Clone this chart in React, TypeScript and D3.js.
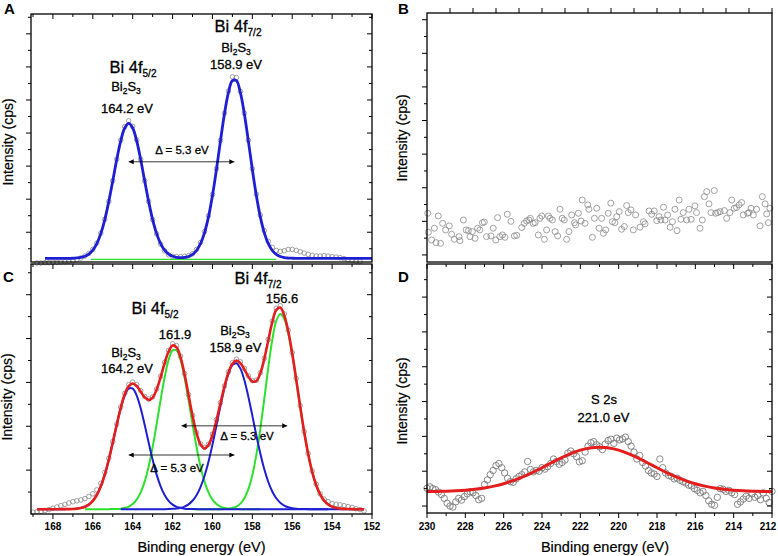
import * as d3 from "d3";

type Pt = [number, number];

const W = 778;
const H = 556;
const FONT = "'Liberation Sans', Arial, Helvetica, sans-serif";

// ---------- panel A: Bi 4f of the reference (0.2 eV steps) ----------
const aCircleStart = 168.8;
const aCircles = [
  -0.93, -0.93, -0.92, -0.92, -0.91, -0.91, -0.9, -0.89, -0.88, -0.86,
  -0.83, -0.78, -0.72, -0.64, -0.52, -0.33, -0.03, 0.39, 0.93, 1.56,
  2.21, 2.78, 3.19, 3.37, 3.2, 2.79, 2.21, 1.56, 0.93, 0.38,
  -0.05, -0.36, -0.56, -0.68, -0.73, -0.74, -0.74, -0.73, -0.71, -0.65,
  -0.52, -0.31, 0.02, 0.5, 1.14, 1.92, 2.78, 3.6, 4.27, 4.7,
  4.68, 4.26, 3.6, 2.78, 1.92, 1.15, 0.52, 0.05, -0.28, -0.46,
  -0.55, -0.58, -0.56, -0.52, -0.52, -0.55, -0.59, -0.63, -0.67, -0.7,
  -0.72, -0.72, -0.71, -0.72, -0.74, -0.75, -0.77, -0.8, -0.83, -0.86,
  -0.88, -0.89,
];
const aFitStart = 168.4;
const aFit = [
  -0.79, -0.79, -0.79, -0.79, -0.79, -0.79, -0.788, -0.786, -0.778, -0.762,
  -0.728, -0.662, -0.543, -0.345, -0.042, 0.383, 0.926, 1.554, 2.197, 2.762,
  3.151, 3.29, 3.151, 2.762, 2.197, 1.554, 0.926, 0.383, -0.042, -0.345,
  -0.543, -0.662, -0.727, -0.758, -0.768, -0.762, -0.732, -0.671, -0.552, -0.346,
  -0.017, 0.465, 1.111, 1.898, 2.756, 3.575, 4.224, 4.583, 4.583, 4.224,
  3.575, 2.756, 1.898, 1.111, 0.465, -0.017, -0.346, -0.552, -0.671, -0.734,
  -0.766, -0.78, -0.786, -0.789, -0.79, -0.79, -0.79, -0.79, -0.79, -0.79,
  -0.79, -0.79, -0.79, -0.79, -0.79, -0.79, -0.79, -0.79, -0.79, -0.79,
  -0.79, -0.79, -0.79,
];
const aBackground: Pt[] = [
  [166.1, -0.82],
  [156.8, -0.82],
];

// ---------- panel B: scatter only (arbitrary x units) ----------
const bPoints: Pt[] = [
  [0.03, 2.48], [0.06, 1.35], [0.2, 0.89], [0.32, 1.59], [0.39, 0.73], [0.49, 2.32], [0.59, 0.69],
  [0.68, 1.88], [0.81, 1.49], [0.97, 1.73], [1.07, 1.23], [1.19, 0.93], [1.39, 1.09], [1.43, 0.85],
  [1.58, 2.08], [1.7, 1.49], [1.8, 1.45], [1.87, 1.09], [1.97, 1.39], [2.09, 0.99], [2.2, 1.59],
  [2.3, 1.49], [2.41, 1.92], [2.49, 1.96], [2.59, 1.09], [2.78, 1.13], [2.88, 1.59], [2.99, 0.89],
  [3.07, 2.22], [3.17, 1.09], [3.28, 1.19], [3.39, 1.05], [3.49, 2.42], [3.65, 2.0], [3.8, 1.13],
  [3.9, 1.17], [4.12, 1.63], [4.23, 1.88], [4.33, 2.02], [4.43, 2.08], [4.49, 2.18], [4.62, 1.88],
  [4.7, 1.92], [4.84, 1.19], [4.91, 2.18], [4.99, 2.32], [5.1, 0.93], [5.2, 1.49], [5.28, 2.32],
  [5.35, 2.18], [5.45, 2.08], [5.57, 1.39], [5.68, 1.13], [5.78, 2.72], [5.88, 2.18], [5.97, 2.08],
  [6.07, 0.93], [6.17, 1.39], [6.29, 2.38], [6.41, 1.92], [6.46, 1.79], [6.58, 2.48], [6.7, 2.02],
  [6.75, 3.27], [6.87, 1.88], [6.99, 2.98], [7.04, 2.72], [7.19, 1.05], [7.28, 2.18], [7.38, 2.78],
  [7.48, 1.59], [7.59, 2.18], [7.67, 1.29], [7.77, 1.49], [7.88, 2.48], [7.99, 3.08], [8.06, 1.98],
  [8.17, 1.92], [8.25, 2.28], [8.36, 2.58], [8.46, 1.53], [8.58, 1.69], [8.68, 2.94], [8.75, 2.52],
  [8.87, 2.68], [8.97, 1.49], [9.07, 2.38], [9.26, 1.65], [9.41, 1.98], [9.48, 1.85], [9.65, 2.62],
  [9.77, 2.42], [9.88, 2.62], [9.99, 2.04], [10.09, 2.28], [10.17, 2.08], [10.28, 2.84], [10.35, 2.08],
  [10.46, 2.38], [10.57, 1.65], [10.67, 1.98], [10.78, 2.72], [10.87, 1.45], [10.96, 3.27], [11.04, 2.12],
  [11.14, 2.52], [11.29, 2.08], [11.39, 2.72], [11.48, 2.12], [11.65, 2.92], [11.72, 2.52], [11.87, 1.59],
  [11.97, 2.08], [12.06, 3.47], [12.16, 3.77], [12.26, 3.04], [12.35, 2.52], [12.49, 3.83], [12.55, 2.48],
  [12.64, 2.52], [12.74, 2.58], [12.93, 2.64], [13.03, 2.18], [13.17, 2.52], [13.25, 3.27], [13.36, 2.78],
  [13.46, 2.82], [13.57, 2.98], [13.68, 3.12], [13.75, 2.38], [13.94, 2.48], [14.0, 2.52], [14.09, 2.78],
  [14.19, 2.38], [14.33, 2.72], [14.48, 1.73], [14.58, 3.47], [14.7, 3.04], [14.77, 2.44], [14.84, 1.92],
  [14.91, 2.78],
];

// ---------- panel C: Bi 4f of the sample (0.2 eV steps) ----------
const cCircleStart = 169.0;
const cCircles = [
  0.04, 0.05, 0.06, 0.08, 0.1, 0.13, 0.16, 0.19, 0.22, 0.25,
  0.28, 0.3, 0.32, 0.35, 0.4, 0.46, 0.55, 0.7, 0.95, 1.27,
  1.65, 2.05, 2.44, 2.75, 2.95, 3.01, 2.95, 2.81, 2.68, 2.62,
  2.67, 2.85, 3.14, 3.46, 3.73, 3.88, 3.84, 3.6, 3.2, 2.72,
  2.25, 1.85, 1.6, 1.52, 1.59, 1.82, 2.15, 2.54, 2.92, 3.24,
  3.45, 3.53, 3.47, 3.32, 3.15, 3.04, 3.05, 3.22, 3.55, 3.98,
  4.4, 4.69, 4.75, 4.56, 4.19, 3.68, 3.09, 2.47, 1.88, 1.38,
  0.98, 0.68, 0.46, 0.34, 0.28, 0.24, 0.22, 0.21, 0.19, 0.17,
  0.15, 0.12, 0.1, 0.07,
];
const cEnvStart = 168.8;
const cEnvelope = [
  0.11, 0.11, 0.11, 0.11, 0.11, 0.11, 0.11, 0.111, 0.112, 0.115,
  0.122, 0.137, 0.164, 0.214, 0.299, 0.433, 0.63, 0.898, 1.238, 1.629,
  2.039, 2.422, 2.729, 2.917, 2.975, 2.919, 2.792, 2.663, 2.602, 2.655,
  2.837, 3.12, 3.437, 3.704, 3.843, 3.801, 3.57, 3.185, 2.714, 2.243,
  1.846, 1.588, 1.495, 1.573, 1.8, 2.134, 2.522, 2.905, 3.221, 3.426,
  3.497, 3.441, 3.299, 3.132, 3.021, 3.033, 3.208, 3.538, 3.961, 4.373,
  4.653, 4.706, 4.529, 4.167, 3.659, 3.065, 2.449, 1.868, 1.366, 0.962,
  0.66, 0.447, 0.306, 0.218, 0.167, 0.138, 0.123, 0.116, 0.113, 0.111,
  0.11, 0.11, 0.11,
];
// Bi2S3 doublet (blue)
const cBlue1Start = 168.8;
const cBlue1 = [
  0.11, 0.11, 0.11, 0.11, 0.11, 0.11, 0.11, 0.111, 0.112, 0.115,
  0.122, 0.137, 0.164, 0.214, 0.299, 0.433, 0.63, 0.898, 1.237, 1.627,
  2.034, 2.41, 2.701, 2.859, 2.859, 2.701, 2.41, 2.034, 1.627, 1.237,
  0.898, 0.63, 0.433, 0.299, 0.214, 0.164, 0.137, 0.122, 0.115, 0.112,
  0.111, 0.11, 0.11, 0.11, 0.11, 0.11, 0.11, 0.11, 0.11, 0.11,
  0.11, 0.11, 0.11, 0.11, 0.11, 0.11, 0.11, 0.11, 0.11, 0.11,
  0.11, 0.11, 0.11, 0.11, 0.11, 0.11, 0.11, 0.11, 0.11, 0.11,
  0.11, 0.11, 0.11, 0.11,
];
const cBlue2Start = 164.6;
const cBlue2 = [
  0.11, 0.11, 0.11, 0.11, 0.11, 0.11, 0.11, 0.11, 0.11, 0.11,
  0.11, 0.111, 0.113, 0.117, 0.125, 0.141, 0.17, 0.22, 0.302, 0.428,
  0.613, 0.866, 1.191, 1.582, 2.018, 2.463, 2.873, 3.198, 3.394, 3.435,
  3.314, 3.049, 2.675, 2.242, 1.796, 1.379, 1.019, 0.73, 0.513, 0.359,
  0.256, 0.192, 0.154, 0.132, 0.121, 0.115, 0.112, 0.111, 0.11, 0.11,
  0.11, 0.11, 0.11, 0.11, 0.11, 0.11, 0.11, 0.11, 0.11, 0.11,
  0.11, 0.11,
];
// metallic Bi doublet (green)
const cGreen1Start = 166.4;
const cGreen1 = [
  0.11, 0.11, 0.11, 0.11, 0.11, 0.11, 0.111, 0.112, 0.115, 0.122,
  0.138, 0.168, 0.226, 0.328, 0.492, 0.739, 1.085, 1.528, 2.049, 2.599,
  3.113, 3.512, 3.732, 3.732, 3.512, 3.113, 2.599, 2.049, 1.528, 1.085,
  0.739, 0.492, 0.328, 0.226, 0.168, 0.138, 0.122, 0.115, 0.112, 0.111,
  0.11, 0.11, 0.11, 0.11, 0.11,
];
const cGreen2Start = 161.0;
const cGreen2 = [
  0.11, 0.11, 0.11, 0.11, 0.11, 0.11, 0.11, 0.111, 0.114, 0.121,
  0.137, 0.17, 0.237, 0.36, 0.567, 0.889, 1.347, 1.939, 2.629, 3.341,
  3.97, 4.404, 4.56, 4.447, 4.123, 3.637, 3.054, 2.444, 1.866, 1.366,
  0.962, 0.66, 0.447, 0.306, 0.218, 0.167, 0.138, 0.123, 0.116, 0.113,
  0.111, 0.11, 0.11, 0.11,
];

// ---------- panel D: S 2s (circles 0.15 eV, fit 0.5 eV) ----------
const dCircleStart = 230;
const dCircles = [
  0.51, 0.55, 0.5, 0.47, 0.4, 0.33, 0.22, 0.08, 0.0, -0.03,
  0.12, 0.22, 0.17, 0.27, 0.35, 0.41, 0.38, 0.3, 0.18, 0.22,
  0.62, 0.75, 0.9, 1.02, 1.16, 1.22, 1.1, 0.95, 0.8, 0.7,
  0.68, 0.78, 0.85, 0.9, 0.98, 1.28, 1.05, 0.98, 1.02, 1.0,
  1.1, 1.06, 1.13, 1.22, 1.35, 1.28, 1.2, 1.25, 1.32, 1.52,
  1.58, 1.5, 1.42, 1.27, 1.3, 1.55, 1.72, 1.82, 1.85, 1.76,
  1.7, 1.62, 1.78, 1.88, 1.92, 1.8, 1.95, 1.9, 1.93, 1.98,
  1.85, 1.72, 1.55, 1.35, 1.45, 1.25, 1.15, 1.02, 0.95, 0.92,
  0.85, 1.35, 1.1, 0.95, 0.88, 0.85, 0.78, 0.8, 0.74, 0.7,
  0.66, 0.6, 0.58, 0.5, 0.45, 0.38, 0.42, 0.3, 0.15, 0.05,
  0.02, 0.25, 0.5, 0.48, 0.42, 0.45, 0.38, 0.33, 0.05, 0.12,
  0.2, 0.28, 0.22, 0.35, 0.25, 0.3, 0.18, 0.38, 0.22, 0.1,
  0.42,
];
const dFitStart = 230;
const dFit = [
  0.415, 0.419, 0.426, 0.437, 0.454, 0.481, 0.518, 0.571, 0.64, 0.729,
  0.837, 0.962, 1.1, 1.244, 1.383, 1.507, 1.605, 1.668, 1.69, 1.668,
  1.605, 1.507, 1.383, 1.244, 1.1, 0.962, 0.837, 0.729, 0.64, 0.571,
  0.518, 0.481, 0.454, 0.437, 0.426, 0.419, 0.415,
];

const energyLabelsC = [168, 166, 164, 162, 160, 158, 156, 154, 152];
const energyLabelsD = [230, 228, 226, 224, 222, 220, 218, 216, 214, 212];

const spectrum = (start: number, step: number, vals: number[]): Pt[] =>
  vals.map((v, i) => [+(start - i * step).toFixed(2), v]);

// ---------- scales ----------
const xAC = d3.scaleLinear().domain([169.1, 152]).range([31, 372]);
const yA = d3.scaleLinear().domain([-0.9, 6.6]).range([262, 14]);
const yC = d3.scaleLinear().domain([0, 5.7]).range([514, 264]);
const xB = d3.scaleLinear().domain([0, 15]).range([427, 772]);
const yB = d3.scaleLinear().domain([-0.42, 14.4]).range([262, 13]);
const xD = d3.scaleLinear().domain([230, 212]).range([427, 772]);
const yD = d3.scaleLinear().domain([-0.2, 6.95]).range([513, 264]);

const BLUE = "#1e1ed2";
const RED = "#e41e1e";
const GREEN = "#2ee02e";
const GREY = "#8a8a8a";

function makeLine(x: d3.ScaleLinear<number, number>, y: d3.ScaleLinear<number, number>) {
  return d3
    .line<Pt>()
    .x((d) => x(d[0]))
    .y((d) => y(d[1]))
    .curve(d3.curveCatmullRom.alpha(0.5));
}

function yTicks(
  x0: number,
  y: d3.ScaleLinear<number, number>,
  dir: number,
  majors: number[],
  minors: number[]
) {
  return (
    <g stroke="#000" strokeWidth={1}>
      {majors.map((v) => (
        <line key={"M" + v} x1={x0} x2={x0 + dir * 5} y1={y(v)} y2={y(v)} />
      ))}
      {minors.map((v) => (
        <line key={"m" + v} x1={x0} x2={x0 + dir * 3} y1={y(v)} y2={y(v)} />
      ))}
    </g>
  );
}

function xTicks(
  y0: number,
  x: d3.ScaleLinear<number, number>,
  dir: number,
  values: number[],
  isMajor: (v: number) => boolean
) {
  return (
    <g stroke="#000" strokeWidth={1}>
      {values.map((v) => (
        <line key={v} x1={x(v)} x2={x(v)} y1={y0} y2={y0 + dir * (isMajor(v) ? 5 : 3)} />
      ))}
    </g>
  );
}

// a hair of stroke makes Liberation Sans look as dark as the exported figure text
const ink = { fill: "#000", stroke: "#000", strokeWidth: 0.3 };

const Bi2S3 = ({ x, y }: { x: number; y: number }) => (
  <text x={x} y={y} textAnchor="middle" fontSize={13} {...ink}>
    Bi
    <tspan fontSize={8.5} dy={3}>2</tspan>
    <tspan dy={-3}>S</tspan>
    <tspan fontSize={8.5} dy={3}>3</tspan>
  </text>
);

const BiLevel = ({ x, y, sub }: { x: number; y: number; sub: string }) => (
  <text x={x} y={y} textAnchor="middle" fontSize={16.5} {...ink}>
    Bi 4f
    <tspan fontSize={10} dy={4}>{sub}</tspan>
  </text>
);

const Label = ({ x, y, t, size = 13 }: { x: number; y: number; t: string; size?: number }) => (
  <text x={x} y={y} textAnchor="middle" fontSize={size} {...ink}>
    {t}
  </text>
);

const YTitle = ({ x, y }: { x: number; y: number }) => (
  <text
    transform={`translate(${x},${y}) rotate(-90)`}
    textAnchor="middle"
    fontSize={14}
    fill="#000"
    stroke="#000"
    strokeWidth={0.2}
  >
    Intensity (cps)
  </text>
);

export default function App() {
  const lineA = makeLine(xAC, yA);
  const lineC = makeLine(xAC, yC);
  const lineD = makeLine(xD, yD);

  const aPts = spectrum(aCircleStart, 0.2, aCircles);
  const cPts = spectrum(cCircleStart, 0.2, cCircles);
  const dPts = spectrum(dCircleStart, 0.15, dCircles);

  const eTicksAC = xAC.ticks(20).filter((v) => v >= 152 && v <= 169);
  const eTicksD = xD.ticks(20);
  const even = (v: number) => Math.round(v) % 2 === 0;

  const majA = d3.range(0, 7);
  const minA = d3.range(-0.5, 7, 1);
  const majC = d3.range(1, 6);
  const minC = d3.range(0.5, 6, 1);
  const majD = d3.range(0, 7);
  const minD = d3.range(0.5, 7, 1);
  const ticksB = d3.range(0, 15);

  const arrowY_A = 2.13;
  const arrowY_C1 = 2.01;
  const arrowY_C2 = 1.345;

  return (
    <svg
      width={W}
      height={H}
      style={{ position: "absolute", left: 0, top: 0, background: "#fff" }}
      fontFamily={FONT}
    >
      <defs>
        <marker
          id="arrowhead"
          viewBox="0 0 10 10"
          refX={10}
          refY={5}
          markerWidth={7}
          markerHeight={5}
          markerUnits="userSpaceOnUse"
          orient="auto-start-reverse"
        >
          <path d="M0,0 L10,5 L0,10 z" fill="#000" />
        </marker>
      </defs>
      <rect width={W} height={H} fill="#fff" />

      {/* ---------- A ---------- */}
      <g>
        {aPts.map((d, i) => (
          <circle key={i} cx={xAC(d[0])} cy={yA(d[1])} r={2.3} fill="none" stroke={GREY} strokeWidth={0.8} />
        ))}
        <path d={lineA(aBackground) || ""} fill="none" stroke={GREEN} strokeWidth={1.3} />
        <path d={lineA(spectrum(aFitStart, 0.2, aFit)) || ""} fill="none" stroke={BLUE} strokeWidth={2.8} />
        <rect x={31} y={14} width={341} height={248} fill="none" stroke="#000" strokeWidth={1.3} />
        {yTicks(31, yA, -1, majA, minA)}
        {yTicks(372, yA, -1, majA, minA)}
        {xTicks(14, xAC, 1, eTicksAC, even)}
        <BiLevel x={133} y={73} sub="5/2" />
        <Bi2S3 x={126} y={91} />
        <Label x={127} y={113} t="164.2 eV" />
        <BiLevel x={238} y={32} sub="7/2" />
        <Bi2S3 x={236} y={52} />
        <Label x={236} y={69} t="158.9 eV" />
        <line
          x1={xAC(164.2)}
          x2={xAC(158.9)}
          y1={yA(arrowY_A)}
          y2={yA(arrowY_A)}
          stroke="#000"
          strokeWidth={0.8}
          markerStart="url(#arrowhead)"
          markerEnd="url(#arrowhead)"
        />
        <Label x={182} y={153.5} t="Δ = 5.3 eV" size={11.5} />
        <text x={4} y={14} fontSize={15} fontWeight="bold">A</text>
        <YTitle x={13} y={142} />
      </g>

      {/* ---------- B ---------- */}
      <g>
        {bPoints.map((d, i) => (
          <circle key={i} cx={xB(d[0])} cy={yB(d[1])} r={3} fill="none" stroke={GREY} strokeWidth={0.8} />
        ))}
        <rect x={427} y={13} width={345} height={249} fill="none" stroke="#000" strokeWidth={1.3} />
        {yTicks(427, yB, -1, ticksB.filter((v) => v % 2 === 0), ticksB.filter((v) => v % 2 === 1))}
        {xTicks(13, xB, -1, d3.range(1, 16), () => true)}
        <text x={398} y={14} fontSize={15} fontWeight="bold">B</text>
        <YTitle x={407} y={138} />
      </g>

      {/* ---------- C ---------- */}
      <g>
        {cPts.map((d, i) => (
          <circle key={i} cx={xAC(d[0])} cy={yC(d[1])} r={2.3} fill="none" stroke={GREY} strokeWidth={0.8} />
        ))}
        <path d={lineC(spectrum(cGreen1Start, 0.2, cGreen1)) || ""} fill="none" stroke={GREEN} strokeWidth={2} />
        <path d={lineC(spectrum(cGreen2Start, 0.2, cGreen2)) || ""} fill="none" stroke={GREEN} strokeWidth={2} />
        <path d={lineC(spectrum(cBlue1Start, 0.2, cBlue1)) || ""} fill="none" stroke={BLUE} strokeWidth={2} />
        <path d={lineC(spectrum(cBlue2Start, 0.2, cBlue2)) || ""} fill="none" stroke={BLUE} strokeWidth={2} />
        <path d={lineC(spectrum(cEnvStart, 0.2, cEnvelope)) || ""} fill="none" stroke={RED} strokeWidth={2.6} />
        <rect x={31} y={264} width={341} height={250} fill="none" stroke="#000" strokeWidth={1.3} />
        {yTicks(31, yC, -1, majC, minC)}
        {yTicks(372, yC, -1, majC, minC)}
        {xTicks(264, xAC, 1, eTicksAC, even)}
        {xTicks(514, xAC, 1, eTicksAC, even)}
        {energyLabelsC.map((v) => (
          <text key={v} x={xAC(v)} y={530} textAnchor="middle" fontSize={10} fontWeight="bold">
            {v}
          </text>
        ))}
        <BiLevel x={155} y={314} sub="5/2" />
        <Label x={175} y={338.5} t="161.9" />
        <Bi2S3 x={126} y={357} />
        <Label x={127} y={373} t="164.2 eV" />
        <Bi2S3 x={235} y={335} />
        <Label x={235.5} y={352} t="158.9 eV" />
        <BiLevel x={258} y={283.5} sub="7/2" />
        <Label x={282} y={303} t="156.6" />
        <line
          x1={xAC(161.55)}
          x2={xAC(156.25)}
          y1={yC(arrowY_C1)}
          y2={yC(arrowY_C1)}
          stroke="#000"
          strokeWidth={0.8}
          markerStart="url(#arrowhead)"
          markerEnd="url(#arrowhead)"
        />
        <Label x={247} y={440} t="Δ = 5.3 eV" size={11.5} />
        <line
          x1={xAC(164.2)}
          x2={xAC(158.9)}
          y1={yC(arrowY_C2)}
          y2={yC(arrowY_C2)}
          stroke="#000"
          strokeWidth={0.8}
          markerStart="url(#arrowhead)"
          markerEnd="url(#arrowhead)"
        />
        <Label x={177} y={471.5} t="Δ = 5.3 eV" size={11.5} />
        <text x={3} y={282} fontSize={15} fontWeight="bold">C</text>
        <YTitle x={12} y={397} />
        <text x={201.5} y={552} textAnchor="middle" fontSize={14.5} fill="#000" stroke="#000" strokeWidth={0.2}>
          Binding energy (eV)
        </text>
      </g>

      {/* ---------- D ---------- */}
      <g>
        {dPts.map((d, i) => (
          <circle key={i} cx={xD(d[0])} cy={yD(d[1])} r={3.2} fill="none" stroke="#7c7c7c" strokeWidth={0.9} />
        ))}
        <path d={lineD(spectrum(dFitStart, 0.5, dFit)) || ""} fill="none" stroke={RED} strokeWidth={3} />
        <rect x={427} y={264} width={345} height={249} fill="none" stroke="#000" strokeWidth={1.3} />
        {yTicks(427, yD, -1, majD, minD)}
        {yTicks(772, yD, -1, majD, minD)}
        {xTicks(264, xD, 1, eTicksD, even)}
        {xTicks(513, xD, 1, eTicksD, even)}
        {energyLabelsD.map((v) => (
          <text
            key={v}
            x={Math.min(xD(v), W - 10)}
            y={530}
            textAnchor="middle"
            fontSize={10}
            fontWeight="bold"
          >
            {v}
          </text>
        ))}
        <Label x={604} y={404} t="S 2s" />
        <Label x={603.5} y={421.7} t="221.0 eV" />
        <text x={398} y={282} fontSize={15} fontWeight="bold">D</text>
        <YTitle x={407} y={401} />
        <text x={605} y={552} textAnchor="middle" fontSize={14.5} fill="#000" stroke="#000" strokeWidth={0.2}>
          Binding energy (eV)
        </text>
      </g>
    </svg>
  );
}
